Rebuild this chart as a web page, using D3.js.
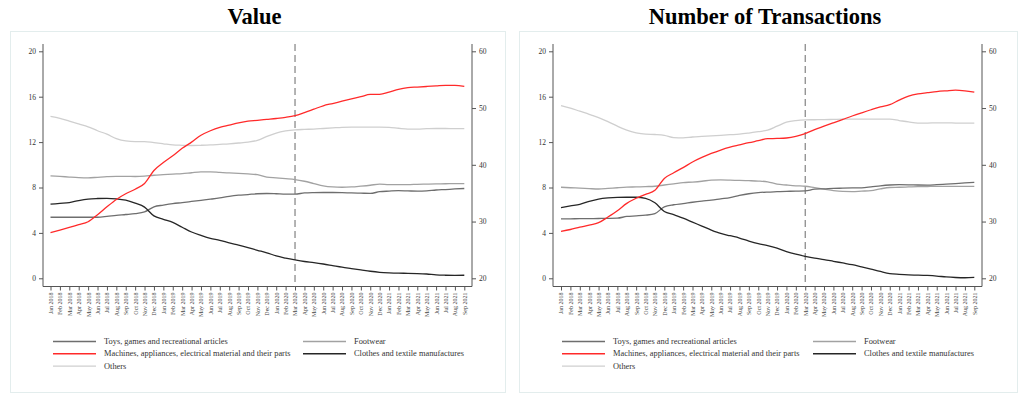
<!DOCTYPE html>
<html>
<head>
<meta charset="utf-8">
<script src="https://cdn.jsdelivr.net/npm/d3@7"></script>
<style>
  html, body { margin: 0; padding: 0; background: #ffffff; }
  svg { display: block; }
  text { font-family: "Liberation Serif", "DejaVu Serif", serif; fill: #333; }
</style>
</head>
<body>
<svg id="chart" width="1024" height="395"></svg>
<script>
// ---------- DATA ----------
const monthNames = ["Jan","Feb","Mar","Apr","May","Jun","Jul","Aug","Sep","Oct","Nov","Dec"];
const months = [];
for (let y = 2018; y <= 2021; y++) for (let m = 0; m < 12; m++) {
  if (y === 2021 && m > 8) break;
  months.push(monthNames[m] + " " + y);
}
const markerMonth = "Mar 2020";
const panelTitles = ["Value", "Number of Transactions"];
const seriesNames = [
  "Toys, games and recreational articles",
  "Footwear",
  "Machines, appliances, electrical material and their parts",
  "Clothes and textile manufactures",
  "Others"
];
const leftTicks = [0, 4, 8, 12, 16, 20];
const rightTicks = [20, 30, 40, 50, 60];

// Value panel
const valueToys = [5.38,5.38,5.38,5.38,5.38,5.38,5.45,5.55,5.62,5.7,5.85,6.3,6.45,6.58,6.67,6.77,6.87,6.97,7.08,7.22,7.32,7.38,7.45,7.47,7.45,7.42,7.42,7.52,7.55,7.56,7.56,7.55,7.52,7.5,7.48,7.63,7.68,7.72,7.7,7.68,7.7,7.78,7.82,7.87,7.91];
const valueFootwear = [9.03,8.98,8.92,8.87,8.85,8.9,8.95,8.98,8.98,8.97,9.0,9.08,9.13,9.18,9.22,9.3,9.37,9.38,9.33,9.28,9.25,9.2,9.13,8.92,8.85,8.78,8.7,8.55,8.35,8.15,8.05,8.02,8.05,8.12,8.2,8.3,8.25,8.25,8.25,8.28,8.3,8.32,8.33,8.35,8.35];
const valueMachines = [4.03,4.25,4.48,4.72,4.98,5.6,6.3,6.95,7.45,7.85,8.35,9.5,10.2,10.8,11.45,12.0,12.6,13.0,13.3,13.5,13.7,13.85,13.92,14.0,14.08,14.18,14.33,14.6,14.9,15.2,15.4,15.6,15.8,16.0,16.2,16.2,16.4,16.65,16.8,16.85,16.9,16.95,17.0,17.0,16.9];
const valueClothes = [6.53,6.6,6.67,6.85,6.98,7.03,7.05,7.0,6.88,6.62,6.27,5.5,5.2,4.92,4.5,4.08,3.78,3.52,3.35,3.12,2.92,2.7,2.47,2.25,1.97,1.78,1.62,1.48,1.38,1.26,1.12,0.98,0.86,0.74,0.62,0.53,0.48,0.45,0.44,0.42,0.38,0.3,0.27,0.26,0.27];
const valueOthers = [14.26,14.1,13.85,13.6,13.35,13.0,12.7,12.3,12.1,12.05,12.05,11.95,11.85,11.75,11.72,11.7,11.72,11.75,11.8,11.85,11.92,12.0,12.15,12.5,12.8,12.98,13.08,13.12,13.15,13.2,13.25,13.3,13.32,13.32,13.32,13.32,13.3,13.22,13.15,13.15,13.18,13.2,13.2,13.18,13.18];

// Number of transactions panel
const txToys = [5.23,5.24,5.25,5.26,5.27,5.28,5.3,5.45,5.5,5.56,5.7,6.3,6.48,6.58,6.7,6.8,6.88,7.0,7.11,7.3,7.45,7.55,7.6,7.63,7.66,7.68,7.7,7.85,7.88,7.92,7.94,7.96,7.97,8.05,8.15,8.22,8.25,8.24,8.22,8.21,8.25,8.3,8.35,8.4,8.46];
const txFootwear = [8.02,7.98,7.94,7.9,7.87,7.92,7.98,8.03,8.05,8.08,8.11,8.22,8.32,8.43,8.48,8.55,8.65,8.67,8.65,8.62,8.6,8.57,8.5,8.3,8.22,8.15,8.11,7.98,7.85,7.72,7.65,7.64,7.68,7.72,7.88,8.0,8.02,8.05,8.08,8.09,8.1,8.1,8.1,8.1,8.1];
const txMachines = [4.14,4.3,4.5,4.68,4.9,5.4,5.95,6.6,7.05,7.4,7.75,8.8,9.3,9.75,10.25,10.65,11.0,11.3,11.55,11.75,11.95,12.12,12.3,12.32,12.36,12.5,12.75,13.1,13.4,13.7,14.0,14.3,14.58,14.85,15.1,15.3,15.7,16.05,16.25,16.35,16.45,16.52,16.58,16.52,16.4];
const txClothes = [6.23,6.38,6.52,6.78,6.98,7.08,7.13,7.14,7.14,7.05,6.65,5.88,5.62,5.3,4.95,4.6,4.25,3.95,3.75,3.55,3.28,3.05,2.88,2.65,2.35,2.12,1.94,1.78,1.65,1.5,1.35,1.2,1.0,0.8,0.6,0.42,0.35,0.3,0.28,0.25,0.2,0.12,0.07,0.05,0.08];
const txOthers = [15.22,15.0,14.72,14.45,14.15,13.8,13.4,13.05,12.82,12.7,12.67,12.6,12.4,12.38,12.45,12.5,12.55,12.6,12.65,12.7,12.8,12.92,13.05,13.4,13.75,13.9,13.96,13.97,13.98,14.0,14.02,14.02,14.02,14.02,14.02,14.02,13.9,13.78,13.68,13.68,13.7,13.7,13.68,13.67,13.67];

// ---------- STYLE ----------
const seriesColors = ["#6e6e6e", "#a2a2a2", "#ff2a2a", "#262626", "#cfcfcf"];

const svg = d3.select("#chart");

function drawPanel(cfg, seriesData) {
  const g = svg.append("g");
  // panel border
  g.append("rect")
    .attr("x", cfg.px0 + 0.5).attr("y", 31.5)
    .attr("width", cfg.px1 - cfg.px0).attr("height", 361)
    .attr("fill", "none").attr("stroke", "#e3eded").attr("stroke-width", 1);
  // title
  g.append("text")
    .attr("x", (cfg.px0 + cfg.px1) / 2 - 3).attr("y", 24)
    .attr("text-anchor", "middle")
    .style("font-size", "22.5px").style("font-weight", "bold").style("fill", "#000")
    .text(cfg.title);

  const x = d3.scalePoint().domain(months).range([cfg.x0, cfg.x1]);
  const yL = d3.scaleLinear().domain([0, 20]).range([278.3, 51.3]);
  const yR = d3.scaleLinear().domain([20, 60]).range([278.3, 51.3]);
  const top = 44, bottom = 286.5;

  // frame lines
  g.append("line").attr("x1", cfg.axL).attr("x2", cfg.axL).attr("y1", top).attr("y2", bottom)
    .attr("stroke", "#555").attr("stroke-width", 1);
  g.append("line").attr("x1", cfg.axR).attr("x2", cfg.axR).attr("y1", top).attr("y2", bottom)
    .attr("stroke", "#555").attr("stroke-width", 1);
  g.append("line").attr("x1", cfg.axL).attr("x2", cfg.axR).attr("y1", bottom).attr("y2", bottom)
    .attr("stroke", "#555").attr("stroke-width", 1);

  // left axis
  const la = g.append("g").attr("transform", `translate(${cfg.axL},0)`)
    .call(d3.axisLeft(yL).tickValues(leftTicks).tickSize(4).tickPadding(3));
  la.select(".domain").remove();
  la.selectAll("line").attr("stroke", "#555");
  la.selectAll("text").style("font-family", "Liberation Serif").style("font-size", "7.5px").style("fill", "#333");

  // right axis
  const ra = g.append("g").attr("transform", `translate(${cfg.axR},0)`)
    .call(d3.axisRight(yR).tickValues(rightTicks).tickSize(4).tickPadding(3));
  ra.select(".domain").remove();
  ra.selectAll("line").attr("stroke", "#555");
  ra.selectAll("text").style("font-family", "Liberation Serif").style("font-size", "7.5px").style("fill", "#333");

  // bottom axis
  const ba = g.append("g").attr("transform", `translate(0,${bottom})`)
    .call(d3.axisBottom(x).tickSize(4).tickPadding(2));
  ba.select(".domain").remove();
  ba.selectAll("line").attr("stroke", "#555");
  ba.selectAll("text")
    .attr("transform", "rotate(-90)")
    .attr("x", -6).attr("y", 0).attr("dy", "0.32em")
    .style("text-anchor", "end")
    .style("font-family", "Liberation Serif").style("font-size", "6px").style("fill", "#444");

  // dashed marker
  g.append("line")
    .attr("x1", x(markerMonth)).attr("x2", x(markerMonth))
    .attr("y1", top).attr("y2", bottom)
    .attr("stroke", "#777").attr("stroke-width", 1.1).attr("stroke-dasharray", "7,4");

  // series lines (drawn so the light ones go under)
  const order = [4, 1, 0, 3, 2];
  const line = d3.line().x((d, i) => x(months[i])).y(d => yL(d)).curve(d3.curveMonotoneX);
  order.forEach(k => {
    g.append("path")
      .datum(seriesData[k])
      .attr("d", line)
      .attr("fill", "none")
      .attr("stroke", seriesColors[k])
      .attr("stroke-width", 1.3);
  });

  // legend
  const legendItems = [
    { k: 0, col: 0, row: 0 },
    { k: 1, col: 1, row: 0 },
    { k: 2, col: 0, row: 1 },
    { k: 3, col: 1, row: 1 },
    { k: 4, col: 0, row: 2 }
  ];
  legendItems.forEach(it => {
    const lx = cfg.legX[it.col];
    const ly = 341.5 + it.row * 12.3;
    g.append("line").attr("x1", lx).attr("x2", lx + 43).attr("y1", ly).attr("y2", ly)
      .attr("stroke", seriesColors[it.k]).attr("stroke-width", 1.4);
    g.append("text").attr("x", lx + 51).attr("y", ly).attr("dy", "0.32em")
      .style("font-size", "8.4px").style("fill", "#333")
      .text(seriesNames[it.k]);
  });
}

drawPanel({ title: panelTitles[0], px0: 10, px1: 505, x0: 50.5, x1: 464.3, axL: 43, axR: 472, legX: [53, 303] },
  [valueToys, valueFootwear, valueMachines, valueClothes, valueOthers]);
drawPanel({ title: panelTitles[1], px0: 519, px1: 1017, x0: 561, x1: 974.3, axL: 553, axR: 982, legX: [562, 813] },
  [txToys, txFootwear, txMachines, txClothes, txOthers]);
</script>
</body>
</html>
